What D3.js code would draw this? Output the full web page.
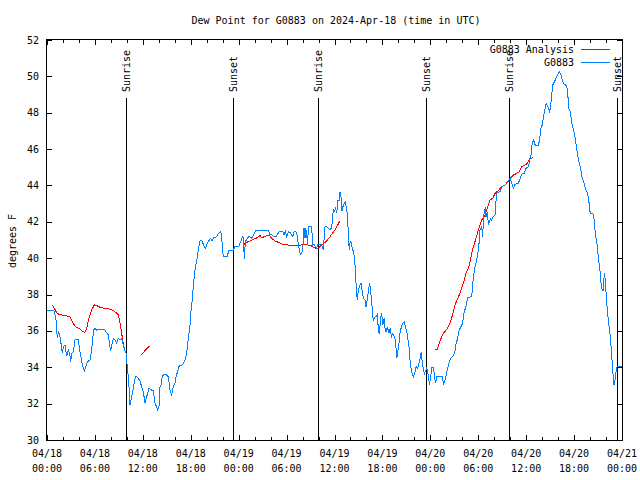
<!DOCTYPE html>
<html><head><meta charset="utf-8">
<script src="https://cdn.jsdelivr.net/npm/d3@7"></script>
<style>
body{margin:0;background:#fff}
svg{display:block}
text{font-family:"DejaVu Sans Mono","Liberation Mono",monospace;font-size:10px;fill:#000}
</style>
</head><body>
<svg id="chart" width="640" height="480"></svg>
<script>
// ---- data (hours since 2024-04-18 00:00 UTC, dew point in F) ----
const startTime = "2024-04-18T00:00:00Z";
const titleText = "Dew Point for G0883 on 2024-Apr-18 (time in UTC)";
const yLabel = "degrees F";
const seriesNames = ["G0883 Analysis", "G0883"];

const obsHours = [0,0.88,1.0,1.13,1.29,1.42,1.54,1.63,1.75,1.92,2.05,2.25,2.38,2.5,2.67,2.84,2.96,3.09,3.3,3.51,3.63,3.92,4.05,4.26,4.42,4.67,4.84,5.09,5.38,5.59,5.84,6.01,6.22,6.64,7.05,7.26,7.47,7.68,7.8,7.97,8.1,8.31,8.52,8.72,8.93,9.14,9.35,9.48,9.68,9.89,9.98,10.1,10.27,10.39,10.6,10.81,10.94,11.14,11.43,11.64,11.85,12.06,12.27,12.48,12.61,12.77,13.1,13.31,13.52,13.73,13.86,14.02,14.15,14.27,14.44,14.78,14.99,15.2,15.4,15.61,15.82,16.03,16.15,16.36,16.57,
17.0,17.28,17.49,17.7,17.91,18.03,18.2,18.33,18.49,18.62,18.74,18.95,19.16,19.37,19.58,19.83,20.08,20.33,20.49,20.66,20.91,21.24,21.45,21.75,21.87,22.0,22.08,22.58,22.79,23.34,23.54,24.04,24.25,24.5,24.59,24.71,24.84,25.09,25.26,25.42,25.63,25.92,26.09,27.76,27.93,28.14,28.35,28.68,28.85,29.1,29.52,29.68,29.85,30.02,30.23,30.52,30.77,30.94,31.18,31.35,31.47,31.68,31.8,31.97,32.1,32.18,32.31,32.39,32.52,32.64,32.72,33.14,33.27,33.43,33.6,33.77,33.93,34.35,34.6,34.81,35.02,35.23,35.44,35.65,35.86,35.98,36.15,36.28,36.4,36.57,36.69,36.82,36.94,37.11,37.32,37.53,37.65,
37.77,37.86,37.94,38.06,38.19,38.36,38.48,38.57,38.65,38.74,38.86,38.99,39.2,39.32,39.45,39.61,39.82,39.95,40.12,40.29,40.41,40.54,40.7,40.79,40.91,41.08,41.29,41.37,41.5,41.62,41.79,41.91,42.04,42.21,42.33,42.46,42.63,42.8,42.96,43.13,43.3,43.47,43.63,43.8,43.93,44.1,44.22,44.39,44.56,44.72,44.89,45.06,45.18,45.35,45.47,45.64,45.89,46.1,46.23,46.43,46.56,46.73,46.85,46.98,47.14,47.27,47.44,47.56,47.77,47.9,48.07,48.19,48.4,48.53,48.65,48.82,49.53,49.65,49.78,49.95,50.16,50.37,50.58,50.87,51.04,51.2,51.41,51.62,51.83,52.04,52.25,52.46,52.67,
53.18,53.39,53.6,53.81,54.01,54.14,54.22,54.43,54.56,54.64,54.77,54.89,54.97,55.14,55.27,55.39,55.56,55.68,55.89,56.1,56.18,56.31,56.73,56.93,57.35,57.77,57.98,58.19,58.4,58.61,59.03,59.24,59.45,59.74,59.99,60.28,60.49,60.66,
60.75,60.92,61.13,61.55,61.67,61.84,62.01,62.17,62.38,62.51,62.68,62.84,62.93,63.09,63.22,63.34,63.64,63.93,64.18,64.35,64.51,64.68,64.89,65.1,65.23,65.35,65.52,65.73,65.94,66.14,66.35,66.56,66.77,66.98,67.19,67.4,67.61,67.81,68.02,68.36,68.53,68.65,68.86,69.07,69.28,69.41,69.53,69.66,69.78,69.91,70.03,70.2,70.33,70.54,70.75,70.87,71.0,71.12,71.25,71.38,72.0];
const obsValues = [37.1,37.1,36.88,36.6,35.59,35.96,35.87,35.68,35.32,34.8,35.13,35.23,34.86,34.64,34.95,34.77,34.31,34.77,34.86,35.5,35.54,35.54,35.04,34.58,34.13,33.8,34.03,34.31,34.4,34.95,36.05,36.14,36.05,36.08,36.08,36.05,35.9,35.78,35.41,34.9,35.23,35.59,35.5,35.35,35.59,35.5,35.59,35.32,34.99,34.8,34.31,33.85,32.93,31.93,32.38,32.84,33.21,33.52,33.39,33.26,32.93,32.66,32.02,32.38,32.57,32.84,32.75,32.75,32.02,31.83,31.65,31.8,32.93,33.02,33.52,33.63,33.57,33.48,32.75,32.48,32.93,33.12,33.48,33.76,34.11,
34.13,34.4,34.77,35.59,36.33,37.06,37.79,38.53,39.17,39.63,39.81,40.45,40.95,41.0,40.76,40.54,40.82,41.0,41.09,40.95,41.13,41.18,41.37,41.46,41.18,40.36,40.12,40.12,40.45,40.45,40.67,40.67,40.91,41.18,41.09,39.96,40.91,41.09,41.18,41.18,41.09,41.31,41.5,41.5,41.28,41.31,41.18,41.18,41.31,41.46,41.46,41.28,41.46,41.18,41.46,41.37,41.18,41.46,41.46,41.18,40.73,40.27,40.21,40.36,40.91,41.64,41.09,41.64,41.28,40.7,41.73,41.73,40.73,40.76,40.64,40.54,40.76,40.76,40.45,41.73,41.73,41.64,41.55,41.68,42.71,42.57,42.75,42.47,43.15,43.15,43.62,43.38,42.57,42.93,43.11,42.66,42.19,
40.91,40.45,40.82,40.91,40.63,40.36,40.08,39.63,39.08,38.16,37.7,38.25,38.53,38.62,38.25,37.79,37.7,37.33,37.79,38.34,38.62,38.16,37.33,36.78,36.6,36.78,36.78,36.97,35.96,35.87,36.78,36.97,36.33,36.69,36.14,35.96,36.23,35.87,36.14,35.68,35.87,35.68,35.5,34.49,34.86,35.41,35.96,36.23,36.42,36.51,36.23,35.96,35.59,35.04,34.31,33.76,33.48,33.76,34.04,33.94,34.22,34.49,34.86,34.31,33.85,33.67,33.85,33.98,33.48,33.03,33.57,33.98,33.98,33.48,33.12,33.48,33.48,33.03,33.21,33.48,33.94,34.31,34.49,34.64,34.77,35.23,35.59,36.05,36.23,36.42,37.06,37.33,37.85,
37.88,38.98,39.53,39.9,40.45,40.99,41.55,41.74,41.18,42.1,42.65,42.75,42.29,42.56,41.83,42.01,42.19,42.1,42.29,42.38,42.93,43.57,43.66,43.93,44.02,44.21,44.39,44.12,43.84,44.06,44.12,44.39,44.63,44.67,44.94,45.03,45.49,45.77,
46.31,46.5,46.22,46.22,46.5,47.14,47.32,47.79,48.24,48.52,48.33,48.24,47.97,48.52,49.07,49.53,49.8,50.08,50.26,50.08,49.8,49.62,49.53,49.44,48.89,48.24,48.06,47.42,47.05,46.59,45.95,45.4,45.04,44.49,44.21,43.84,43.66,43.3,42.47,42.44,42.1,41.37,40.82,39.9,39.17,38.43,38.25,38.25,39.17,38.8,37.88,36.97,36.42,35.68,34.4,33.67,33.03,33.3,33.76,34.03,34.03];

// analysis series; null marks a gap
const anaHours = [0.67,0.92,1.21,1.42,1.84,2.46,2.88,3.17,3.42,3.72,4.13,4.42,4.76,4.97,5.18,5.59,5.93,6.22,6.64,7.26,7.68,8.31,8.73,8.93,9.14,9.35,9.48,9.64,9.77,
10.8,
11.77,12.27,12.86,
18,
24.67,25.0,25.42,25.84,26.17,26.46,26.67,26.88,27.22,27.51,27.8,28.14,28.55,28.97,29.39,30.02,30.85,31.68,32.1,32.52,32.85,33.14,33.43,33.77,33.98,34.19,34.39,34.81,35.11,35.44,35.73,36.07,36.4,36.69,
42,
48.63,48.88,49.12,49.42,49.62,49.83,50.12,50.46,50.66,50.87,51.08,51.51,51.71,52.13,52.47,52.76,52.97,53.18,53.39,53.72,54.01,54.22,54.43,54.64,54.85,55.06,55.27,55.47,55.81,56.1,56.52,56.93,57.35,57.77,57.98,58.4,58.82,59.15,59.45,59.87,60.16,60.49,60.91];
const anaValues = [37.43,37.24,37.0,36.93,36.88,36.82,36.78,36.51,36.33,36.18,36.11,35.96,35.92,36.11,36.6,37.15,37.43,37.39,37.3,37.24,37.21,37.12,36.97,36.88,36.42,35.87,35.5,35.13,34.91,
null,
34.66,34.91,35.17,
null,
40.76,40.87,40.95,41.04,41.09,41.18,41.24,41.13,41.18,41.24,41.28,41.09,40.95,40.87,40.78,40.73,40.71,40.71,40.75,40.76,40.69,40.67,40.58,40.51,40.54,40.65,40.73,40.87,41.0,41.18,41.37,41.55,41.83,42.05,
null,
35.0,35.0,35.32,35.68,35.87,35.96,36.14,36.42,36.69,37.06,37.42,37.88,38.06,38.62,39.17,39.44,39.81,40.27,40.63,41.09,41.55,41.83,42.1,42.19,42.38,42.65,42.93,43.2,43.29,43.57,43.72,43.93,44.02,44.27,44.39,44.57,44.67,44.76,45.03,45.12,45.22,45.49,45.53];

const sunLabels = ["Sunrise","Sunset","Sunrise","Sunset","Sunrise","Sunset"];
const sunHours = [9.92,23.33,33.97,47.42,57.89,71.41];
const yTickValues = [30,32,34,36,38,40,42,44,46,48,50,52];

// ---- drawing ----
const t0 = new Date(startTime);
const toDate = h => new Date(t0.getTime() + h * 3600e3);
const W = 640, H = 480;
const L = 47, R = 622, T = 40, B = 440;
const svg = d3.select("#chart");
const x = d3.scaleUtc().domain([t0, toDate(72)]).range([L, R]);
const y = d3.scaleLinear().domain([30, 52]).range([B, T]);
const blue = "#0080ff", red = "#ff0000";

// title
svg.append("text").attr("x", 336).attr("y", 24).attr("text-anchor", "middle").text(titleText);
// y label
svg.append("text").attr("transform", "translate(12,241) rotate(-90)")
  .attr("text-anchor", "middle").attr("dy", "0.35em").text(yLabel);

const g = svg.append("g").attr("shape-rendering", "crispEdges");

// x ticks
const majors = d3.utcHour.every(6).range(t0, toDate(72.01));
const minors = d3.utcHour.every(2).range(t0, toDate(72.01));
minors.forEach(d => {
  const isMajor = d.getUTCHours() % 6 === 0;
  const len = isMajor ? 5 : 3;
  const xp = Math.round(x(d)) + 0.5;
  g.append("line").attr("x1", xp).attr("x2", xp).attr("y1", B).attr("y2", B - len).attr("stroke", "#000");
  g.append("line").attr("x1", xp).attr("x2", xp).attr("y1", T).attr("y2", T + len).attr("stroke", "#000");
});
const fmtDay = d3.utcFormat("%m/%d"), fmtTime = d3.utcFormat("%H:%M");
majors.forEach(d => {
  const t = svg.append("text").attr("text-anchor", "middle");
  t.append("tspan").attr("x", x(d)).attr("y", 457).text(fmtDay(d));
  t.append("tspan").attr("x", x(d)).attr("y", 472).text(fmtTime(d));
});

// y ticks
yTickValues.forEach(v => {
  const yp = Math.round(y(v)) + 0.5;
  g.append("line").attr("x1", L).attr("x2", L + 5).attr("y1", yp).attr("y2", yp).attr("stroke", "#000");
  g.append("line").attr("x1", R - 5).attr("x2", R).attr("y1", yp).attr("y2", yp).attr("stroke", "#000");
  svg.append("text").attr("x", 39).attr("y", y(v)).attr("dy", "0.35em").attr("text-anchor", "end").text(v);
});

// sunrise / sunset
sunHours.forEach((h, i) => {
  const xp = Math.round(x(toDate(h))) + 0.5;
  g.append("line").attr("x1", xp).attr("x2", xp).attr("y1", 98).attr("y2", B).attr("stroke", "#000");
  svg.append("text").attr("transform", `translate(${xp},92) rotate(-90)`)
    .attr("dy", "0.35em").attr("text-anchor", "start").text(sunLabels[i]);
});

// data lines
const obs = obsHours.map((h, i) => ({ t: toDate(h), v: obsValues[i] }));
const ana = anaHours.map((h, i) => ({ t: toDate(h), v: anaValues[i] }));
const line = d3.line().defined(d => d.v != null).x(d => x(d.t)).y(d => y(d.v)).curve(d3.curveStepAfter);
const line2 = d3.line().defined(d => d.v != null).x(d => x(d.t)).y(d => y(d.v));
g.append("path").datum(ana).attr("d", line2).attr("fill", "none").attr("stroke", red).attr("stroke-width", 1);
g.append("path").datum(obs).attr("d", line2).attr("fill", "none").attr("stroke", blue).attr("stroke-width", 1);

// border
g.append("rect").attr("x", L - 0.5).attr("y", T - 0.5).attr("width", R - L + 1).attr("height", B - T + 1)
  .attr("fill", "none").attr("stroke", "#000");

// legend
seriesNames.forEach((name, i) => {
  const yp = 49 + i * 13;
  svg.append("text").attr("x", 574).attr("y", yp).attr("dy", "0.35em").attr("text-anchor", "end").text(name);
  g.append("line").attr("x1", 581).attr("x2", 610).attr("y1", yp + 0.5).attr("y2", yp + 0.5)
    .attr("stroke", i === 0 ? red : blue);
});
</script>
</body></html>
